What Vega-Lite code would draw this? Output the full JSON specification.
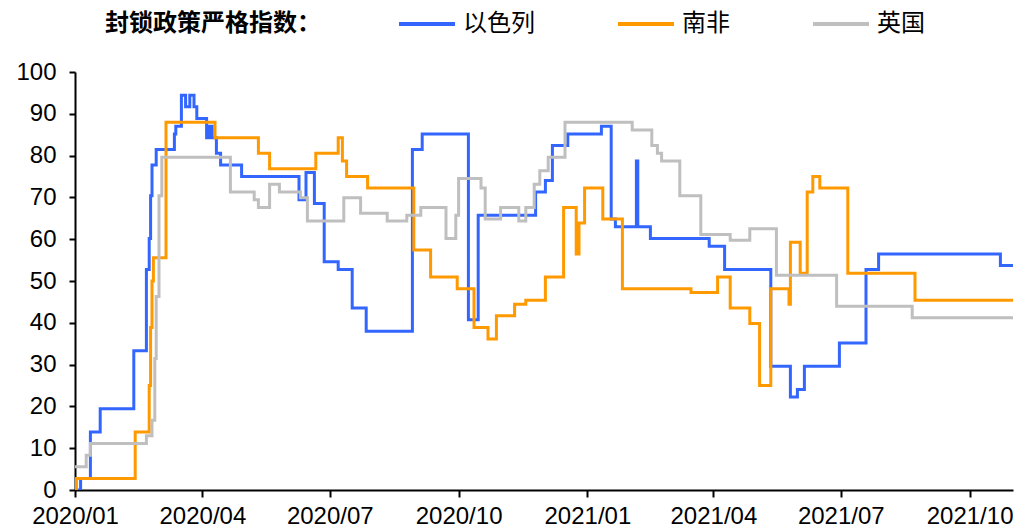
{
  "$schema": "https://vega.github.io/schema/vega-lite/v6.json",
  "width": 938,
  "height": 418,
  "autosize": {"type": "none"},
  "padding": {"left": 75, "top": 72, "right": 19, "bottom": 41},
  "background": "white",
  "config": {
    "view": {"stroke": null},
    "axis": {
      "grid": false,
      "domainColor": "black",
      "domainWidth": 2,
      "tickColor": "black",
      "tickWidth": 2,
      "labelFont": "Liberation Sans",
      "labelFontSize": 24,
      "labelColor": "black",
      "title": null
    }
  },
  "data": {
    "values": [
      {"date": "2020/01/01", "country": "以色列", "value": 0},
      {"date": "2020/01/05", "country": "以色列", "value": 2.78},
      {"date": "2020/01/12", "country": "以色列", "value": 13.89},
      {"date": "2020/01/19", "country": "以色列", "value": 19.44},
      {"date": "2020/02/12", "country": "以色列", "value": 33.33},
      {"date": "2020/02/21", "country": "以色列", "value": 52.78},
      {"date": "2020/02/23", "country": "以色列", "value": 60.19},
      {"date": "2020/02/24", "country": "以色列", "value": 70.37},
      {"date": "2020/02/25", "country": "以色列", "value": 77.78},
      {"date": "2020/02/28", "country": "以色列", "value": 81.48},
      {"date": "2020/03/12", "country": "以色列", "value": 85.19},
      {"date": "2020/03/13", "country": "以色列", "value": 87.04},
      {"date": "2020/03/17", "country": "以色列", "value": 94.44},
      {"date": "2020/03/20", "country": "以色列", "value": 91.67},
      {"date": "2020/03/23", "country": "以色列", "value": 94.44},
      {"date": "2020/03/26", "country": "以色列", "value": 91.67},
      {"date": "2020/03/28", "country": "以色列", "value": 88.89},
      {"date": "2020/04/04", "country": "以色列", "value": 84.26},
      {"date": "2020/04/06", "country": "以色列", "value": 87.04},
      {"date": "2020/04/08", "country": "以色列", "value": 84.26},
      {"date": "2020/04/11", "country": "以色列", "value": 80.56},
      {"date": "2020/04/14", "country": "以色列", "value": 77.78},
      {"date": "2020/04/29", "country": "以色列", "value": 75},
      {"date": "2020/06/09", "country": "以色列", "value": 69.44},
      {"date": "2020/06/14", "country": "以色列", "value": 75.93},
      {"date": "2020/06/20", "country": "以色列", "value": 68.52},
      {"date": "2020/06/27", "country": "以色列", "value": 54.63},
      {"date": "2020/07/07", "country": "以色列", "value": 52.78},
      {"date": "2020/07/17", "country": "以色列", "value": 43.52},
      {"date": "2020/07/27", "country": "以色列", "value": 37.96},
      {"date": "2020/08/29", "country": "以色列", "value": 81.48},
      {"date": "2020/09/05", "country": "以色列", "value": 85.19},
      {"date": "2020/10/08", "country": "以色列", "value": 40.74},
      {"date": "2020/10/15", "country": "以色列", "value": 65.74},
      {"date": "2020/11/25", "country": "以色列", "value": 71.3},
      {"date": "2020/12/02", "country": "以色列", "value": 74.07},
      {"date": "2020/12/07", "country": "以色列", "value": 82.41},
      {"date": "2020/12/18", "country": "以色列", "value": 85.19},
      {"date": "2021/01/11", "country": "以色列", "value": 87.04},
      {"date": "2021/01/18", "country": "以色列", "value": 64.81},
      {"date": "2021/01/21", "country": "以色列", "value": 62.96},
      {"date": "2021/02/05", "country": "以色列", "value": 78.7},
      {"date": "2021/02/06", "country": "以色列", "value": 62.96},
      {"date": "2021/02/15", "country": "以色列", "value": 60.19},
      {"date": "2021/03/29", "country": "以色列", "value": 58.33},
      {"date": "2021/04/09", "country": "以色列", "value": 52.78},
      {"date": "2021/05/12", "country": "以色列", "value": 29.63},
      {"date": "2021/05/26", "country": "以色列", "value": 22.22},
      {"date": "2021/05/31", "country": "以色列", "value": 24.07},
      {"date": "2021/06/05", "country": "以色列", "value": 29.63},
      {"date": "2021/06/30", "country": "以色列", "value": 35.19},
      {"date": "2021/07/19", "country": "以色列", "value": 52.78},
      {"date": "2021/07/28", "country": "以色列", "value": 56.48},
      {"date": "2021/10/23", "country": "以色列", "value": 53.7},
      {"date": "2021/11/01", "country": "以色列", "value": 53.7},

      {"date": "2020/01/01", "country": "南非", "value": 0},
      {"date": "2020/01/02", "country": "南非", "value": 2.78},
      {"date": "2020/02/13", "country": "南非", "value": 13.89},
      {"date": "2020/02/23", "country": "南非", "value": 25},
      {"date": "2020/02/24", "country": "南非", "value": 38.89},
      {"date": "2020/02/25", "country": "南非", "value": 50},
      {"date": "2020/02/26", "country": "南非", "value": 55.56},
      {"date": "2020/03/06", "country": "南非", "value": 87.96},
      {"date": "2020/04/10", "country": "南非", "value": 84.26},
      {"date": "2020/05/11", "country": "南非", "value": 80.56},
      {"date": "2020/05/19", "country": "南非", "value": 76.85},
      {"date": "2020/06/21", "country": "南非", "value": 80.56},
      {"date": "2020/07/07", "country": "南非", "value": 84.26},
      {"date": "2020/07/10", "country": "南非", "value": 78.7},
      {"date": "2020/07/13", "country": "南非", "value": 75},
      {"date": "2020/07/28", "country": "南非", "value": 72.22},
      {"date": "2020/08/30", "country": "南非", "value": 57.41},
      {"date": "2020/09/11", "country": "南非", "value": 50.93},
      {"date": "2020/09/30", "country": "南非", "value": 48.15},
      {"date": "2020/10/12", "country": "南非", "value": 38.89},
      {"date": "2020/10/22", "country": "南非", "value": 36.11},
      {"date": "2020/10/28", "country": "南非", "value": 41.67},
      {"date": "2020/11/10", "country": "南非", "value": 44.44},
      {"date": "2020/11/18", "country": "南非", "value": 45.37},
      {"date": "2020/12/02", "country": "南非", "value": 50.93},
      {"date": "2020/12/15", "country": "南非", "value": 67.59},
      {"date": "2020/12/24", "country": "南非", "value": 56.48},
      {"date": "2020/12/26", "country": "南非", "value": 63.89},
      {"date": "2020/12/30", "country": "南非", "value": 72.22},
      {"date": "2021/01/12", "country": "南非", "value": 64.81},
      {"date": "2021/01/26", "country": "南非", "value": 48.15},
      {"date": "2021/03/16", "country": "南非", "value": 47.22},
      {"date": "2021/04/04", "country": "南非", "value": 50.93},
      {"date": "2021/04/13", "country": "南非", "value": 43.52},
      {"date": "2021/04/27", "country": "南非", "value": 39.81},
      {"date": "2021/05/04", "country": "南非", "value": 25},
      {"date": "2021/05/12", "country": "南非", "value": 48.15},
      {"date": "2021/05/25", "country": "南非", "value": 44.44},
      {"date": "2021/05/26", "country": "南非", "value": 59.26},
      {"date": "2021/06/02", "country": "南非", "value": 51.85},
      {"date": "2021/06/07", "country": "南非", "value": 71.3},
      {"date": "2021/06/11", "country": "南非", "value": 75},
      {"date": "2021/06/16", "country": "南非", "value": 72.22},
      {"date": "2021/07/06", "country": "南非", "value": 51.85},
      {"date": "2021/08/23", "country": "南非", "value": 45.37},
      {"date": "2021/11/01", "country": "南非", "value": 45.37},

      {"date": "2020/01/01", "country": "英国", "value": 5.56},
      {"date": "2020/01/09", "country": "英国", "value": 8.33},
      {"date": "2020/01/12", "country": "英国", "value": 11.11},
      {"date": "2020/02/21", "country": "英国", "value": 12.96},
      {"date": "2020/02/25", "country": "英国", "value": 16.67},
      {"date": "2020/02/27", "country": "英国", "value": 31.48},
      {"date": "2020/02/28", "country": "英国", "value": 46.3},
      {"date": "2020/03/01", "country": "英国", "value": 70.37},
      {"date": "2020/03/03", "country": "英国", "value": 79.63},
      {"date": "2020/04/21", "country": "英国", "value": 71.3},
      {"date": "2020/05/08", "country": "英国", "value": 69.44},
      {"date": "2020/05/11", "country": "英国", "value": 67.59},
      {"date": "2020/05/19", "country": "英国", "value": 73.15},
      {"date": "2020/05/26", "country": "英国", "value": 71.3},
      {"date": "2020/06/10", "country": "英国", "value": 69.91},
      {"date": "2020/06/15", "country": "英国", "value": 64.35},
      {"date": "2020/07/11", "country": "英国", "value": 69.91},
      {"date": "2020/07/23", "country": "英国", "value": 66.2},
      {"date": "2020/08/11", "country": "英国", "value": 64.35},
      {"date": "2020/08/25", "country": "英国", "value": 65.74},
      {"date": "2020/09/04", "country": "英国", "value": 67.59},
      {"date": "2020/09/22", "country": "英国", "value": 60.19},
      {"date": "2020/09/29", "country": "英国", "value": 65.74},
      {"date": "2020/10/01", "country": "英国", "value": 74.54},
      {"date": "2020/10/17", "country": "英国", "value": 72.22},
      {"date": "2020/10/20", "country": "英国", "value": 64.81},
      {"date": "2020/10/31", "country": "英国", "value": 67.59},
      {"date": "2020/11/13", "country": "英国", "value": 64.35},
      {"date": "2020/11/18", "country": "英国", "value": 67.59},
      {"date": "2020/11/24", "country": "英国", "value": 73.15},
      {"date": "2020/11/28", "country": "英国", "value": 76.39},
      {"date": "2020/12/04", "country": "英国", "value": 79.63},
      {"date": "2020/12/16", "country": "英国", "value": 87.96},
      {"date": "2021/02/02", "country": "英国", "value": 86.11},
      {"date": "2021/02/16", "country": "英国", "value": 82.41},
      {"date": "2021/02/20", "country": "英国", "value": 80.56},
      {"date": "2021/02/23", "country": "英国", "value": 78.7},
      {"date": "2021/03/08", "country": "英国", "value": 70.37},
      {"date": "2021/03/23", "country": "英国", "value": 61.11},
      {"date": "2021/04/13", "country": "英国", "value": 59.72},
      {"date": "2021/04/27", "country": "英国", "value": 62.5},
      {"date": "2021/05/16", "country": "英国", "value": 51.39},
      {"date": "2021/06/28", "country": "英国", "value": 43.98},
      {"date": "2021/08/21", "country": "英国", "value": 41.2},
      {"date": "2021/11/01", "country": "英国", "value": 41.2}
    ]
  },
  "mark": {"type": "line", "interpolate": "step-after", "strokeWidth": 3, "clip": true},
  "encoding": {
    "x": {
      "field": "date",
      "type": "temporal",
      "scale": {"domain": [{"year": 2020, "month": 1, "date": 1}, {"year": 2021, "month": 11, "date": 1}]},
      "axis": {
        "values": [
          {"year": 2020, "month": 1, "date": 1},
          {"year": 2020, "month": 4, "date": 1},
          {"year": 2020, "month": 7, "date": 1},
          {"year": 2020, "month": 10, "date": 1},
          {"year": 2021, "month": 1, "date": 1},
          {"year": 2021, "month": 4, "date": 1},
          {"year": 2021, "month": 7, "date": 1},
          {"year": 2021, "month": 10, "date": 1}
        ],
        "format": "%Y/%m",
        "tickSize": 7,
        "labelPadding": 7,
        "labelFlush": false,
        "labelOverlap": false
      }
    },
    "y": {
      "field": "value",
      "type": "quantitative",
      "scale": {"domain": [0, 100], "nice": false},
      "axis": {
        "values": [0, 10, 20, 30, 40, 50, 60, 70, 80, 90, 100],
        "tickSize": 6,
        "labelPadding": 13
      }
    },
    "color": {
      "field": "country",
      "type": "nominal",
      "sort": ["以色列", "南非", "英国"],
      "scale": {"domain": ["以色列", "南非", "英国"], "range": ["#3366FF", "#FF9900", "#BFBFBF"]},
      "legend": {
        "orient": "none",
        "legendX": 30,
        "legendY": -78,
        "direction": "horizontal",
        "title": "封锁政策严格指数：",
        "titleOrient": "left",
        "titleAnchor": "middle",
        "titleBaseline": "top",
        "titleLimit": 400,
        "titleFont": "Noto Sans CJK SC",
        "titleFontSize": 24,
        "titleFontWeight": "bold",
        "titleColor": "black",
        "titlePadding": 76,
        "labelFont": "Noto Sans CJK SC",
        "labelFontSize": 24,
        "labelColor": "black",
        "labelLimit": 200,
        "symbolType": "stroke",
        "symbolSize": 3136,
        "symbolStrokeWidth": 4,
        "labelOffset": 6,
        "columnPadding": 75,
        "padding": 0,
        "encode": {"title": {"update": {"dy": {"value": -3}}}}
      }
    }
  }
}
